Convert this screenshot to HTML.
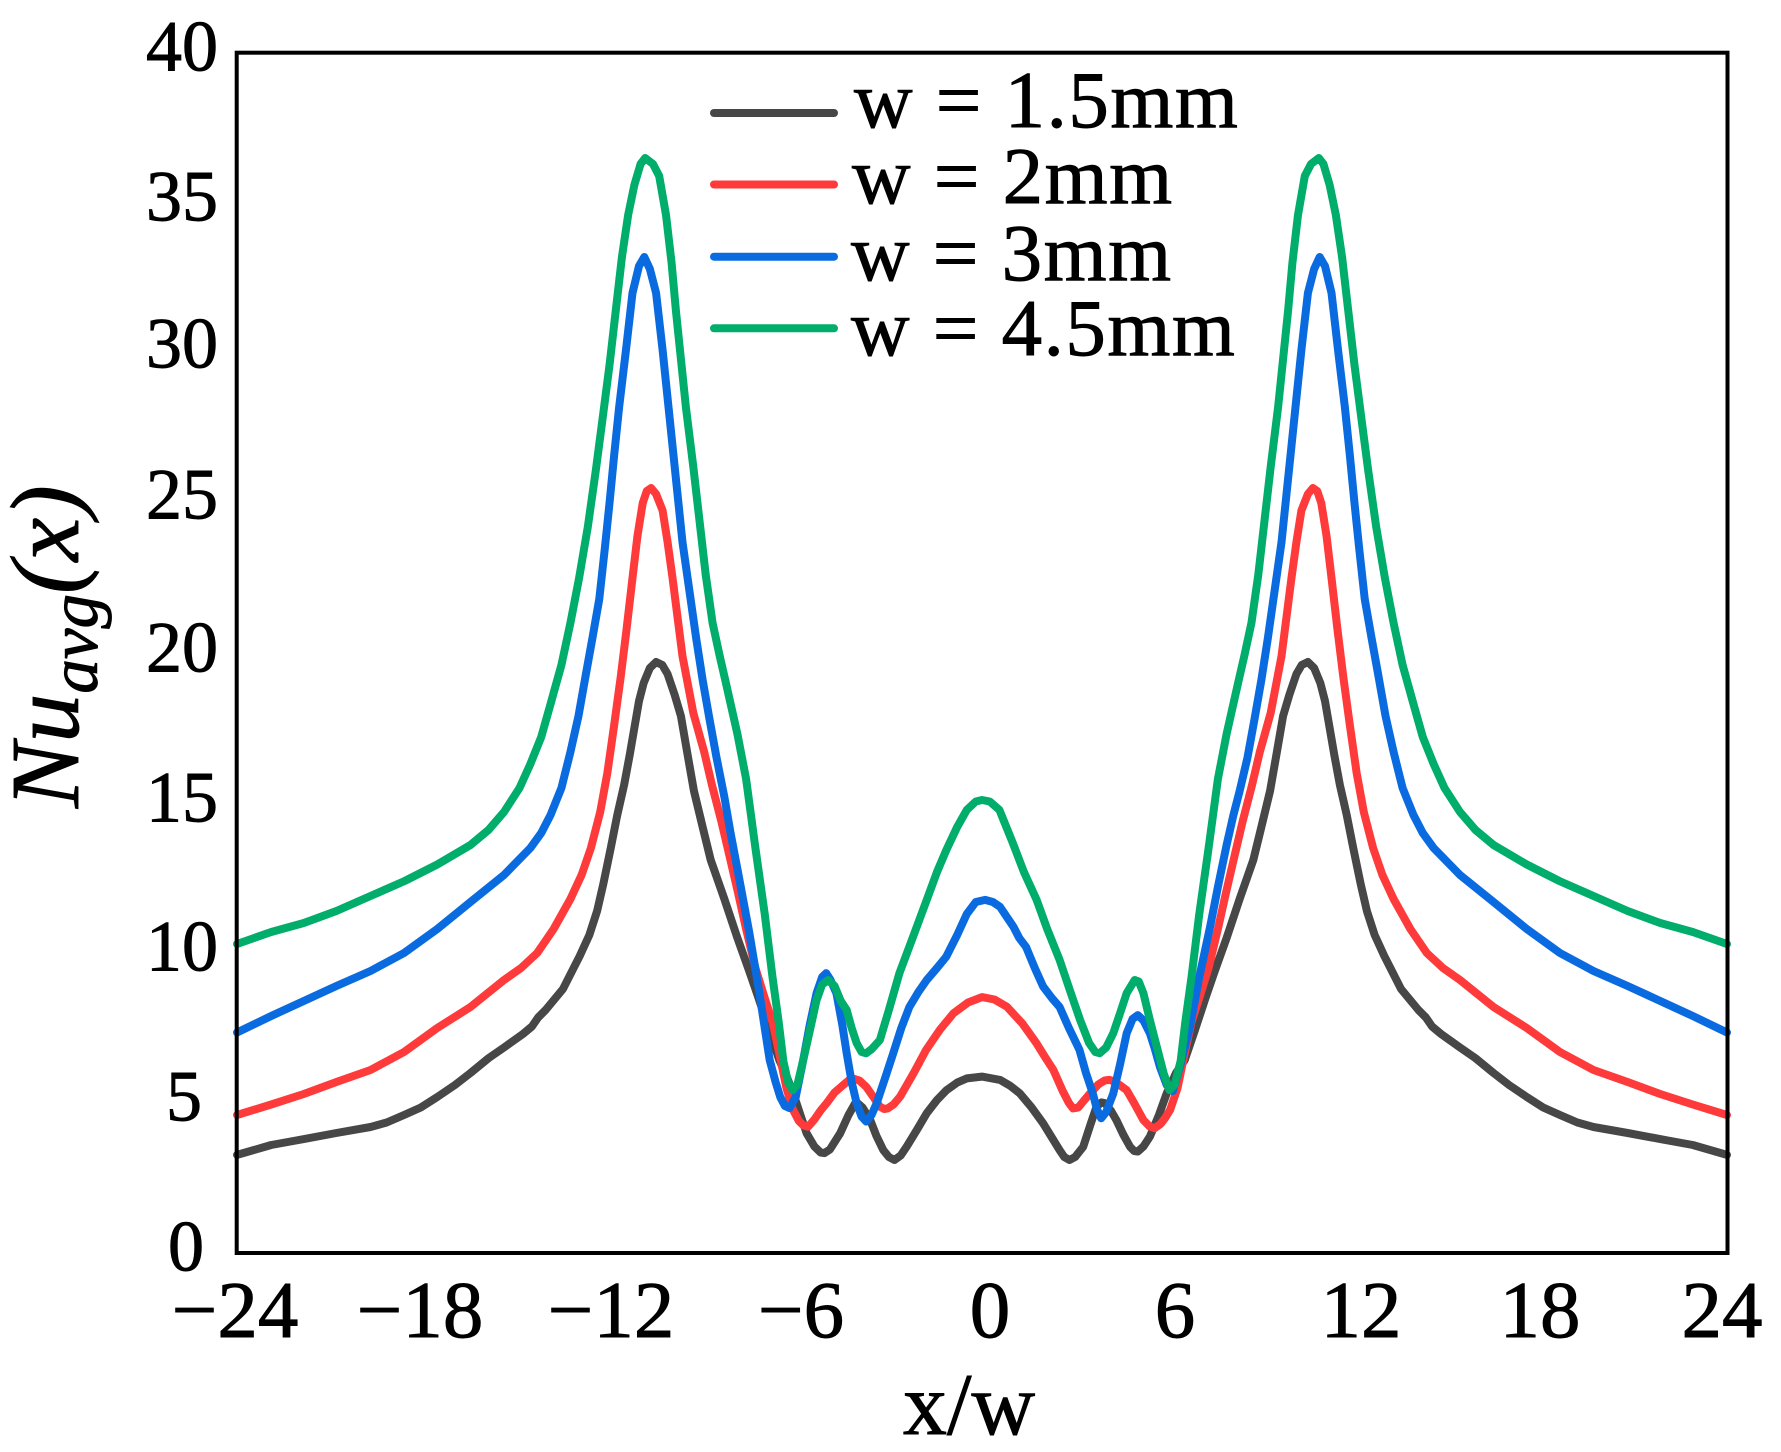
<!DOCTYPE html>
<html>
<head>
<meta charset="utf-8">
<style>
html,body{margin:0;padding:0;background:#fff;}
svg{display:block;}
text{font-family:"Liberation Serif","Times New Roman",serif;fill:#000;}
.s{fill:none;stroke-width:8;stroke-linejoin:round;stroke-linecap:round;vector-effect:non-scaling-stroke;}
.t{stroke:#000;stroke-width:0.9;}
</style>
</head>
<body>
<svg width="1781" height="1452" viewBox="0 0 1781 1452" xmlns="http://www.w3.org/2000/svg" font-family="'Liberation Serif', serif">
<rect x="0" y="0" width="1781" height="1452" fill="#fff"/>

<!-- series -->
<g transform="matrix(31.04 0 0 -30 982 1253)">
<polyline class="s" stroke="#474747" points="-24,3.27 -22.9,3.6 -22.1,3.75 -20.8,4.0 -19.7,4.2 -19.18,4.35 -18.62,4.6 -18.08,4.85 -17.55,5.2 -16.98,5.6 -16.48,6.0 -15.89,6.5 -15.4,6.85 -14.79,7.3 -14.5,7.55 -14.3,7.85 -14.06,8.1 -13.5,8.8 -12.96,9.9 -12.65,10.6 -12.4,11.4 -12.2,12.3 -11.96,13.5 -11.75,14.6 -11.53,15.6 -11.35,16.6 -11.2,17.5 -11.05,18.4 -10.9,19.0 -10.7,19.5 -10.5,19.7 -10.3,19.6 -10.13,19.3 -9.9,18.6 -9.7,17.9 -9.5,16.7 -9.28,15.4 -9.0,14.2 -8.74,13.1 -8.3,11.8 -7.88,10.5 -7.5,9.4 -7.2,8.5 -6.85,7.4 -6.53,6.43 -6.3,5.9 -6.08,5.32 -5.85,4.6 -5.65,3.99 -5.4,3.55 -5.2,3.35 -5.08,3.33 -4.9,3.45 -4.57,3.99 -4.3,4.6 -4.06,5.04 -3.85,4.85 -3.6,4.43 -3.4,3.9 -3.18,3.43 -3.0,3.2 -2.82,3.1 -2.62,3.25 -2.43,3.54 -2.1,4.1 -1.78,4.66 -1.45,5.1 -1.14,5.43 -0.8,5.68 -0.49,5.82 0,5.88 0.58,5.77 0.9,5.58 1.22,5.32 1.6,4.85 1.97,4.32 2.25,3.85 2.5,3.43 2.65,3.2 2.82,3.1 3.0,3.2 3.26,3.54 3.5,4.3 3.69,4.88 3.85,5.02 3.95,5.0 4.15,4.75 4.33,4.43 4.55,3.95 4.77,3.54 4.9,3.4 5.02,3.38 5.2,3.55 5.41,3.88 5.7,4.6 5.95,5.32 6.25,6.0 6.53,6.43 6.85,7.4 7.2,8.5 7.5,9.4 7.88,10.5 8.3,11.8 8.74,13.1 9.0,14.2 9.28,15.4 9.5,16.7 9.7,17.9 9.9,18.6 10.13,19.3 10.3,19.6 10.5,19.7 10.7,19.5 10.9,19.0 11.05,18.4 11.2,17.5 11.35,16.6 11.53,15.6 11.75,14.6 11.96,13.5 12.2,12.3 12.4,11.4 12.65,10.6 12.96,9.9 13.5,8.8 14.06,8.1 14.3,7.85 14.5,7.55 14.79,7.3 15.4,6.85 15.89,6.5 16.48,6.0 16.98,5.6 17.55,5.2 18.08,4.85 18.62,4.6 19.18,4.35 19.7,4.2 20.8,4.0 22.1,3.75 22.9,3.6 24,3.27"/>
<polyline class="s" stroke="#ff3a3a" points="-24,4.6 -22.9,4.95 -21.85,5.3 -20.8,5.7 -19.7,6.1 -18.62,6.7 -17.55,7.5 -16.48,8.2 -15.4,9.1 -14.85,9.5 -14.33,10.0 -13.8,10.8 -13.26,11.8 -12.9,12.6 -12.6,13.5 -12.3,14.7 -12.07,16.0 -11.85,17.6 -11.64,19.2 -11.45,20.8 -11.26,22.5 -11.1,23.9 -10.93,25.0 -10.8,25.4 -10.66,25.5 -10.5,25.3 -10.29,24.75 -10.13,23.7 -9.97,22.5 -9.81,21.2 -9.65,19.9 -9.3,18.0 -8.95,16.7 -8.7,15.6 -8.4,14.4 -8.15,13.3 -7.88,12.1 -7.6,10.8 -7.3,9.5 -7.0,8.5 -6.75,7.7 -6.5,6.5 -6.3,5.5 -6.1,4.8 -5.9,4.4 -5.75,4.25 -5.6,4.21 -5.4,4.45 -5.2,4.75 -5.0,5.0 -4.75,5.35 -4.47,5.6 -4.3,5.75 -4.16,5.82 -3.95,5.75 -3.73,5.54 -3.5,5.2 -3.29,4.88 -3.15,4.8 -3.04,4.82 -2.85,4.95 -2.64,5.21 -2.2,6.0 -1.8,6.77 -1.35,7.45 -0.92,7.99 -0.45,8.35 0,8.53 0.4,8.45 0.8,8.21 1.3,7.65 1.75,7.0 2.05,6.5 2.3,6.1 2.6,5.4 2.8,5.0 2.93,4.82 3.1,4.85 3.3,5.1 3.48,5.32 3.75,5.62 3.95,5.75 4.11,5.77 4.3,5.7 4.5,5.55 4.66,5.43 4.9,5.0 5.2,4.43 5.4,4.22 5.56,4.16 5.75,4.3 5.9,4.5 6.06,4.77 6.3,5.5 6.5,6.5 6.75,7.7 7.0,8.5 7.3,9.5 7.6,10.8 7.88,12.1 8.15,13.3 8.4,14.4 8.7,15.6 8.95,16.7 9.3,18.0 9.65,19.9 9.81,21.2 9.97,22.5 10.13,23.7 10.29,24.75 10.5,25.3 10.66,25.5 10.8,25.4 10.93,25.0 11.1,23.9 11.26,22.5 11.45,20.8 11.64,19.2 11.85,17.6 12.07,16.0 12.3,14.7 12.6,13.5 12.9,12.6 13.26,11.8 13.8,10.8 14.33,10.0 14.85,9.5 15.4,9.1 16.48,8.2 17.55,7.5 18.62,6.7 19.7,6.1 20.8,5.7 21.85,5.3 22.9,4.95 24,4.6"/>
<polyline class="s" stroke="#0a6be0" points="-24,7.35 -22.9,7.9 -21.85,8.4 -20.8,8.9 -19.7,9.4 -18.62,10.0 -17.55,10.8 -16.48,11.7 -15.4,12.6 -14.55,13.5 -14.2,14.0 -13.9,14.6 -13.55,15.5 -13.26,16.7 -13.0,17.9 -12.76,19.3 -12.55,20.5 -12.33,21.8 -12.15,23.5 -12.0,25.0 -11.85,26.6 -11.69,28.2 -11.47,30.1 -11.26,32.0 -11.05,32.9 -10.88,33.2 -10.7,32.8 -10.5,32.0 -10.29,30.1 -10.13,28.5 -9.97,26.9 -9.81,25.3 -9.65,23.7 -9.43,22.1 -9.21,20.5 -9.0,19.1 -8.78,17.8 -8.55,16.5 -8.3,15.2 -8.1,14.0 -7.88,12.8 -7.5,10.7 -7.17,8.66 -7.0,7.5 -6.84,6.43 -6.65,5.7 -6.5,5.2 -6.35,4.9 -6.2,4.83 -6.0,5.2 -5.76,6.43 -5.55,7.6 -5.33,8.66 -5.15,9.2 -5.02,9.33 -4.88,9.1 -4.69,8.66 -4.5,7.6 -4.36,6.66 -4.2,5.7 -4.04,5.0 -3.88,4.55 -3.73,4.38 -3.56,4.6 -3.39,5.0 -3.1,5.9 -2.86,6.66 -2.6,7.5 -2.34,8.2 -2.05,8.7 -1.78,9.1 -1.45,9.5 -1.15,9.88 -0.8,10.6 -0.49,11.3 -0.2,11.7 0.1,11.77 0.35,11.7 0.58,11.54 0.8,11.2 1.01,10.88 1.2,10.5 1.42,10.2 1.7,9.5 1.97,8.88 2.25,8.5 2.5,8.2 2.8,7.5 3.14,6.77 3.35,6.0 3.57,5.32 3.7,4.8 3.84,4.49 4.0,4.7 4.23,5.32 4.45,6.3 4.66,7.32 4.85,7.8 5.02,7.93 5.2,7.75 5.41,7.32 5.57,6.8 5.73,6.21 5.95,5.6 6.15,5.4 6.4,6.3 6.7,7.54 7.0,9.2 7.35,10.88 7.6,12.2 7.88,13.6 8.1,14.6 8.3,15.4 8.55,16.5 8.78,17.8 9.0,19.1 9.21,20.5 9.43,22.1 9.65,23.7 9.81,25.3 9.97,26.9 10.13,28.5 10.29,30.1 10.5,32.0 10.7,32.8 10.88,33.2 11.05,32.9 11.26,32.0 11.47,30.1 11.69,28.2 11.85,26.6 12.0,25.0 12.15,23.5 12.33,21.8 12.55,20.5 12.76,19.3 13.0,17.9 13.26,16.7 13.55,15.5 13.9,14.6 14.2,14.0 14.55,13.5 15.4,12.6 16.48,11.7 17.55,10.8 18.62,10.0 19.7,9.4 20.8,8.9 21.85,8.4 22.9,7.9 24,7.35"/>
<polyline class="s" stroke="#00ad6b" points="-24,10.3 -22.9,10.7 -21.85,11.0 -20.8,11.4 -19.7,11.9 -18.6,12.4 -17.55,12.95 -16.48,13.6 -15.9,14.1 -15.4,14.7 -14.9,15.5 -14.55,16.3 -14.2,17.2 -13.9,18.3 -13.55,19.6 -13.26,21.0 -12.98,22.5 -12.7,24.2 -12.44,26.1 -12.2,28.0 -12.0,29.6 -11.8,31.4 -11.6,33.2 -11.4,34.6 -11.2,35.6 -11.0,36.3 -10.85,36.5 -10.6,36.3 -10.4,35.9 -10.18,34.6 -10.0,33.0 -9.86,31.4 -9.7,29.8 -9.54,28.2 -9.3,26.2 -9.1,24.4 -8.9,22.6 -8.68,21.0 -8.45,19.9 -8.25,19.0 -7.88,17.3 -7.6,15.8 -7.3,13.5 -7.0,11.3 -6.75,9.2 -6.55,7.7 -6.4,6.4 -6.25,5.7 -6.1,5.43 -5.95,5.6 -5.76,6.43 -5.55,7.4 -5.33,8.43 -5.15,8.95 -4.95,9.1 -4.75,8.9 -4.55,8.4 -4.36,8.1 -4.2,7.5 -4.04,7.0 -3.88,6.7 -3.73,6.66 -3.55,6.8 -3.29,7.1 -3.0,8.1 -2.66,9.33 -2.2,10.6 -1.78,11.77 -1.45,12.7 -1.15,13.43 -0.8,14.2 -0.49,14.77 -0.2,15.05 0,15.1 0.25,15.05 0.56,14.77 0.98,13.7 1.35,12.7 1.76,11.77 2.1,10.8 2.5,9.77 2.85,8.7 3.16,7.77 3.45,7.0 3.65,6.7 3.79,6.66 4.0,6.85 4.23,7.33 4.45,8.0 4.66,8.66 4.92,9.1 5.05,9.05 5.2,8.66 5.4,7.8 5.63,6.88 5.85,6.0 6.04,5.43 6.2,5.6 6.4,6.4 6.55,7.7 6.75,9.2 7.0,11.3 7.3,13.5 7.6,15.8 7.88,17.3 8.25,19.0 8.45,19.9 8.68,21.0 8.9,22.6 9.1,24.4 9.3,26.2 9.54,28.2 9.7,29.8 9.86,31.4 10.0,33.0 10.18,34.6 10.4,35.9 10.6,36.3 10.85,36.5 11.0,36.3 11.2,35.6 11.4,34.6 11.6,33.2 11.8,31.4 12.0,29.6 12.2,28.0 12.44,26.1 12.7,24.2 12.98,22.5 13.26,21.0 13.55,19.6 13.9,18.3 14.2,17.2 14.55,16.3 14.9,15.5 15.4,14.7 15.9,14.1 16.48,13.6 17.55,12.95 18.6,12.4 19.7,11.9 20.8,11.4 21.85,11.0 22.9,10.7 24,10.3"/>
</g>

<!-- frame -->
<rect x="236.7" y="52.7" width="1490.8" height="1200.3" fill="none" stroke="#000" stroke-width="4"/>

<!-- y tick labels -->
<g font-size="72" text-anchor="middle" class="t">
<text class="t" x="182" y="70.5">40</text>
<text class="t" x="182" y="220.5">35</text>
<text class="t" x="182" y="367.5">30</text>
<text class="t" x="182" y="518.5">25</text>
<text class="t" x="182" y="671.5">20</text>
<text class="t" x="182" y="821.5">15</text>
<text class="t" x="182" y="970.5">10</text>
<text class="t" x="184" y="1120.5">5</text>
<text class="t" x="186" y="1270.5">0</text>
</g>

<!-- x tick labels -->
<g font-size="81" text-anchor="middle">
<text class="t" x="235" y="1337">−24</text>
<text class="t" x="420" y="1337">−18</text>
<text class="t" x="611" y="1337">−12</text>
<text class="t" x="801" y="1337">−6</text>
<text class="t" x="990" y="1337">0</text>
<text class="t" x="1175" y="1337">6</text>
<text class="t" x="1361" y="1337">12</text>
<text class="t" x="1540" y="1337">18</text>
<text class="t" x="1722" y="1337">24</text>
</g>

<!-- axis titles -->
<text class="t" x="969" y="1434" font-size="88" text-anchor="middle">x/w</text>
<text class="t" transform="translate(78,808) rotate(-90)" font-size="98" font-style="italic">Nu<tspan font-size="69" dy="19">avg</tspan><tspan dy="-19">(x)</tspan></text>

<!-- legend -->
<g stroke-width="8" stroke-linecap="round">
<line x1="714" y1="113" x2="834" y2="113" stroke="#474747"/>
<line x1="714" y1="184.5" x2="834" y2="184.5" stroke="#ff3a3a"/>
<line x1="714" y1="256.7" x2="834" y2="256.7" stroke="#0a6be0"/>
<line x1="714" y1="328.3" x2="834" y2="328.3" stroke="#00ad6b"/>
</g>
<g font-size="81" letter-spacing="1.5">
<text class="t" x="854" y="127">w = 1.5mm</text>
<text class="t" x="852" y="203">w = 2mm</text>
<text class="t" x="851" y="280">w = 3mm</text>
<text class="t" x="851" y="355">w = 4.5mm</text>
</g>
</svg>
</body>
</html>
